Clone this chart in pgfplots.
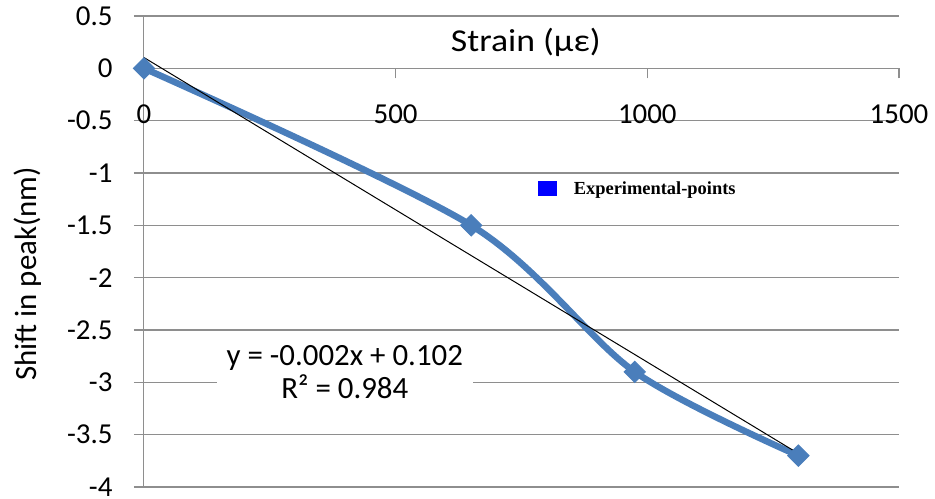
\documentclass[border=0pt]{standalone}
\usepackage{fontspec}
\setmainfont{Carlito}
\newfontfamily\widefont{Carlito}[FakeStretch=1.12]
\newfontfamily\legfont{Liberation Serif}
\usepackage{pgfplots}
\pgfplotsset{compat=1.18}
\definecolor{excelblue}{HTML}{4A7EBB}
\definecolor{gridgray}{HTML}{8E8E8E}

\begin{document}
\begin{tikzpicture}
\begin{axis}[
    name=ax, scale only axis,
    width=755bp, height=471bp,
    xmin=0, xmax=1500, ymin=-4, ymax=0.5,
    axis x line=middle, axis y line=left,
    x axis line style={-, draw=gridgray, line width=1.3bp},
    y axis line style={-, draw=gridgray, line width=1bp},
    xtick={0,500,1000,1500}, xticklabels={0,500,1000,1500},
    ytick={-4,-3.5,-3,-2.5,-2,-1.5,-1,-0.5,0,0.5},
    yticklabels={-4,-3.5,-3,-2.5,-2,-1.5,-1,-0.5,0,0.5},
    hide obscured x ticks=false, hide obscured y ticks=false,
    tick align=outside, major tick length=10bp,
    tick style={draw=gridgray, line width=1.3bp},
    ymajorgrids, major grid style={draw=gridgray, line width=1.3bp},
    tick label style={font=\fontsize{29}{34}\selectfont},
    xticklabel style={yshift=-23bp},
    yticklabel style={xshift=-18bp},
    xlabel={Strain (με)},
    every axis x label/.style={at={(rel axis cs:0.5057,0.9429)}, anchor=center,
        font=\widefont\fontsize{32}{36}\selectfont},
    ylabel={Shift in peak(nm)},
    every axis y label/.style={at={(axis description cs:-0.1536,0.4524)},
        anchor=center, rotate=90, font=\fontsize{31}{36}\selectfont},
    clip=false,
    legend style={draw=none, fill=none, at={(axis cs:783,-1.149)}, anchor=west,
        inner sep=0pt, nodes={inner sep=1bp},
        font=\legfont\bfseries\fontsize{18.5}{20}\selectfont},
    legend cell align=left,
]
% experimental points, smoothed line
\addplot[excelblue, line width=6.5bp, smooth,
    mark=square*, mark size=7.5bp,
    mark options={rotate=45, solid, fill=excelblue, line width=1bp},
    legend image code/.code={\fill[blue] (0bp,-4.5bp) rectangle (12bp,4.5bp); \path (28bp,0bp);}]
    coordinates {(0,0) (650,-1.5) (975,-2.9) (1300,-3.7)};
\addlegendentry{Experimental-points}
% linear trendline
\addplot[black, line width=1bp, forget plot]
    coordinates {(0,0.103) (1300,-3.680)};
\node[fill=white, align=center, inner xsep=10bp, inner ysep=3bp,
    font=\fontsize{31}{33}\selectfont] at (axis cs:399,-2.905)
    {y = -0.002x + 0.102\\R² = 0.984};
\end{axis}
\pgfresetboundingbox
\path ([shift={(-144bp,-12bp)}]ax.south west) rectangle ([shift={(36bp,16bp)}]ax.north east);
\end{tikzpicture}
\end{document}
